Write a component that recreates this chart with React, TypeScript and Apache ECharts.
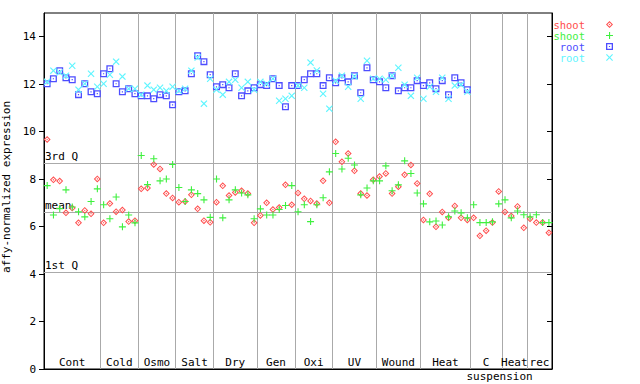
import React, { useEffect, useRef } from "react";
import * as echarts from "echarts";

const FONT = '"DejaVu Sans Mono", monospace';

// Groups along the x axis (number of samples in each)
const groupNames = ["Cont", "Cold", "Osmo", "Salt", "Dry", "Gen", "Oxi", "UV", "Wound", "Heat", "C", "Heat", "rec"];
const groupSubNames = ["", "", "", "", "", "", "", "", "", "", "suspension", "", ""];
const groupSizes = [9, 6, 6, 6, 7, 6, 6, 7, 7, 8, 5, 4, 4];

// Series values, one per sample slot
const shootRep1 = [
  9.67, 7.97, 7.92, 6.58, 6.78, 6.16, 6.68, 6.54, 8.01,
  6.16, 6.97, 6.63, 6.70, 6.21, 6.25,
  7.59, 7.63, 8.62, 8.43, 7.39, 7.21,
  7.03, 7.06, 7.34, 6.75, 6.25, 6.18,
  7.03, 7.72, 7.31, 7.44, 7.51, 7.39, 6.16,
  6.47, 7.00, 6.72, 6.80, 7.76, 6.92,
  7.42, 7.17, 7.08, 6.97, 7.93, 7.00,
  9.57, 8.73, 9.08, 8.35, 7.39, 7.31, 7.97,
  8.11, 8.24, 7.39, 7.68, 8.18, 8.60, 7.82,
  6.28, 7.38, 5.99, 6.62, 6.37, 6.87, 6.37, 6.28,
  6.37, 5.61, 5.83, 6.17, 7.48,
  6.62, 6.45, 6.85, 5.95,
  6.33, 6.17, 6.17, 5.74,
];
const shootRep2 = [
  7.73, 6.49, 6.76, 7.55, 6.83, 6.63, 6.41, 7.06, 7.59,
  6.92, 6.33, 7.25, 5.99, 6.49, 6.16,
  9.00, 7.77, 8.86, 7.93, 8.01, 8.62,
  7.65, 7.06, 7.55, 7.39, 7.13, 6.39,
  8.01, 6.37, 7.13, 7.55, 7.42, 7.34, 6.33,
  6.75, 6.49, 6.49, 6.72, 6.89, 7.73,
  6.63, 6.92, 6.21, 6.92, 7.22, 8.31,
  9.08, 8.43, 8.88, 8.60, 7.34, 7.63, 7.93,
  7.93, 8.56, 7.51, 7.76, 8.77, 8.24, 7.42,
  6.96, 6.20, 6.24, 6.07, 6.41, 6.66, 6.58, 6.37,
  6.92, 6.17, 6.17, 6.20, 6.96,
  7.13, 6.37, 6.66, 6.50,
  6.41, 6.50, 6.17, 6.17,
];
const rootRep1 = [
  12.02, 12.23, 12.57, 12.27, 12.19, 11.56, 12.02, 11.68, 11.60,
  12.44, 12.65, 12.02, 11.68, 11.81, 11.60,
  11.51, 11.51, 11.39, 11.56, 11.51, 11.13,
  11.68, 11.72, 12.44, 13.20, 12.95, 12.40,
  11.89, 11.98, 11.85, 12.44, 11.51, 11.72, 11.85,
  11.98, 11.94, 12.23, 11.94, 11.05, 11.94,
  11.94, 12.19, 12.44, 12.44, 11.94, 12.27,
  12.06, 12.27, 12.10, 12.36, 11.64, 12.69, 12.19,
  12.10, 11.85, 12.36, 11.72, 11.85, 11.85, 12.15,
  11.94, 12.06, 11.81, 12.15, 11.56, 12.27, 12.06, 11.77,
];
const rootRep2 = [
  12.10, 12.57, 12.49, 12.36, 12.78, 11.77, 12.02, 12.44, 11.89,
  12.02, 12.40, 12.95, 12.32, 11.81, 11.81,
  11.56, 11.94, 11.77, 11.85, 11.72, 11.89,
  11.72, 11.81, 12.57, 13.12, 11.18, 12.23,
  11.77, 11.56, 12.10, 12.19, 11.85, 12.10, 11.77,
  12.10, 12.02, 12.23, 11.30, 11.39, 11.51,
  11.94, 11.85, 12.91, 12.58, 11.60, 10.97,
  12.15, 12.36, 11.89, 12.32, 11.39, 12.99, 12.23,
  12.23, 12.19, 12.36, 12.69, 11.98, 11.51, 12.27,
  11.39, 11.89, 11.68, 12.27, 11.39, 11.94, 11.98, 11.68,
];

// Reference lines
const refLineLabels = ["3rd Q", "mean", "1st Q"];
const refLineValues = [8.69, 6.62, 4.09];

// Y tick labels
const yTicks = [0, 2, 4, 6, 8, 10, 12, 14];

const seriesNames = ["shoot A", "shoot B", "root A", "root B"];
const legendLabels = ["shoot", "shoot", "root", "root"];

const RED = "#ff4d4d";
const GREEN = "#3ff03f";
const BLUE = "#4d4dff";
const CYAN = "#5ff5ff";

const SYM_DIAMOND = "path://M3.5,0L7,3.5L3.5,7L0,3.5Z M3.5,1.4L1.4,3.5L3.5,5.6L5.6,3.5Z M3.5,2.7L4.3,3.5L3.5,4.3L2.7,3.5Z";
const SYM_PLUS = "path://M3,0H4.1V3H7V4.1H4.1V7H3V4.1H0V3H3Z";
const SYM_SQUARE = "path://M0,0H7V7H0Z M1.3,1.3V5.7H5.7V1.3Z M2.9,2.9H4.1V4.1H2.9Z";
const SYM_X = "path://M0,0.8L0.8,0L3.5,2.7L6.2,0L7,0.8L4.3,3.5L7,6.2L6.2,7L3.5,4.3L0.8,7L0,6.2L2.7,3.5Z";

export default function App() {
  const ref = useRef<HTMLDivElement>(null);

  useEffect(() => {
    if (!ref.current) return;
    const chart = echarts.init(ref.current, null, { renderer: "svg" });

    const total = groupSizes.reduce((a, b) => a + b, 0);
    const starts: number[] = [];
    let acc = 0;
    groupSizes.forEach((s) => {
      starts.push(acc);
      acc += s;
    });
    const bounds = starts.slice(1);
    const centers = groupSizes.map((s, k) => starts[k] + s / 2);

    const toPts = (vals: number[]) => vals.map((v, i) => [i + 0.5, v]);

    const colors = [RED, GREEN, BLUE, CYAN];
    const symbols = [SYM_DIAMOND, SYM_PLUS, SYM_SQUARE, SYM_X];
    const values = [shootRep1, shootRep2, rootRep1, rootRep2];

    const scatterSeries: any[] = values.map((vals, k) => ({
      name: seriesNames[k],
      type: "scatter",
      data: toPts(vals),
      symbol: symbols[k],
      symbolSize: 7,
      itemStyle: { color: colors[k], opacity: 1 },
      emphasis: { disabled: true },
      silent: true,
      z: 4,
    }));

    scatterSeries[0].markLine = {
      silent: true,
      symbol: ["none", "none"],
      animation: false,
      z: 1,
      lineStyle: { color: "#aaaaaa", width: 1, type: "solid" },
      label: {
        show: true,
        position: "insideStartTop",
        formatter: "{b}",
        color: "#000",
        fontFamily: FONT,
        fontSize: 11,
        distance: [1, 1],
      },
      emphasis: { disabled: true },
      data: [
        ...refLineLabels.map((l, k) => ({ name: l, yAxis: refLineValues[k] })),
        ...bounds.map((b) => ({ xAxis: b, label: { show: false } })),
      ],
    };

    const labelSeries = {
      type: "custom",
      silent: true,
      clip: false,
      z: 6,
      data: centers.map((c, k) => [c, 0, k]),
      renderItem: (params: any, api: any) => {
        const k = api.value(2);
        const p = api.coord([api.value(0), 0]);
        const children: any[] = [
          {
            type: "text",
            x: p[0],
            y: p[1] - 1,
            style: {
              text: groupNames[k],
              textAlign: "center",
              textVerticalAlign: "bottom",
              font: `11px ${FONT}`,
              fill: "#000",
            },
          },
        ];
        if (groupSubNames[k]) {
          const s = api.coord([starts[k], 0]);
          children.push({
            type: "text",
            x: s[0] - 4,
            y: p[1] + 2,
            style: {
              text: groupSubNames[k],
              textAlign: "left",
              textVerticalAlign: "top",
              font: `11px ${FONT}`,
              fill: "#000",
            },
          });
        }
        return { type: "group", children };
      },
    };

    const legends = seriesNames.map((n, k) => ({
      data: [n],
      orient: "vertical",
      right: 27,
      top: 19 + k * 11,
      padding: 0,
      itemGap: 0,
      itemWidth: 7,
      itemHeight: 7,
      align: "right",
      selectedMode: false,
      formatter: () => legendLabels[k],
      textStyle: {
        color: colors[k],
        fontFamily: FONT,
        fontSize: 10.5,
        lineHeight: 9,
        padding: [0, 16, 0, 0],
      },
    }));

    const option: any = {
      animation: false,
      backgroundColor: "#ffffff",
      grid: {
        left: 44,
        right: 88,
        top: 13,
        bottom: 15,
        containLabel: false,
        outerBoundsMode: "none",
        show: true,
        borderColor: "#000",
        borderWidth: 1,
        backgroundColor: "transparent",
      },
      legend: legends,
      xAxis: {
        type: "value",
        min: 0,
        max: total,
        axisLine: { show: true, lineStyle: { color: "#000", width: 1 } },
        axisTick: { show: false },
        axisLabel: { show: false },
        splitLine: { show: false },
      },
      yAxis: [
        {
          type: "value",
          min: 0,
          max: 15,
          interval: 2,
          position: "left",
          name: "affy-normalized expression",
          nameLocation: "middle",
          nameGap: 28,
          nameTextStyle: { fontFamily: FONT, fontSize: 11, color: "#000", padding: [0, 0, 0, 8] },
          axisLine: { show: true, lineStyle: { color: "#000", width: 1 } },
          axisTick: { show: true, length: 5, customValues: yTicks, lineStyle: { color: "#000" } },
          axisLabel: {
            customValues: yTicks,
            margin: 8,
            color: "#000",
            fontFamily: FONT,
            fontSize: 11,
          },
          splitLine: { show: false },
        },
        {
          type: "value",
          min: 0,
          max: 15,
          interval: 2,
          position: "right",
          axisLine: { show: true, lineStyle: { color: "#000", width: 1 } },
          axisTick: { show: true, inside: true, length: 5, customValues: yTicks, lineStyle: { color: "#000" } },
          axisLabel: { show: false },
          splitLine: { show: false },
        },
      ],
      series: [...scatterSeries, labelSeries],
    };

    chart.setOption(option);
    return () => chart.dispose();
  }, []);

  return (
    <div
      ref={ref}
      style={{ position: "fixed", left: 0, top: 0, width: 640, height: 384, background: "#fff" }}
    />
  );
}
